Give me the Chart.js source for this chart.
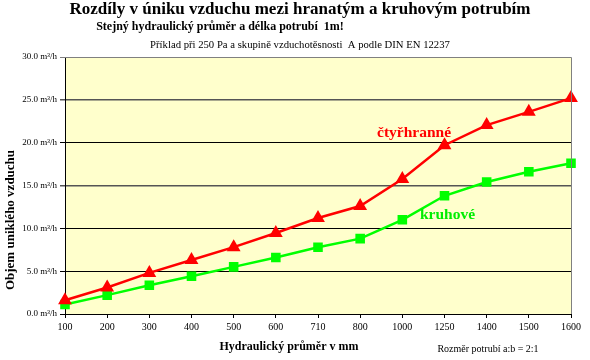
<!DOCTYPE html>
<html>
<head>
<meta charset="utf-8">
<script src="https://cdn.jsdelivr.net/npm/chart.js@4"></script>
<style>
html,body{margin:0;padding:0;background:#fff;}
#wrap{width:590px;height:360px;position:relative;}
</style>
</head>
<body>
<div id="wrap"><canvas id="c" width="590" height="360"></canvas></div>
<script>
const categories = ['100','200','300','400','500','600','710','800','1000','1250','1400','1500','1600'];
const squareDuct = [1.6, 3.1, 4.8, 6.3, 7.8, 9.45, 11.2, 12.6, 15.75, 19.7, 22.05, 23.6, 25.2];
const roundDuct  = [1.1, 2.2, 3.35, 4.4, 5.5, 6.6, 7.8, 8.8, 11.0, 13.8, 15.4, 16.6, 17.6];
const seriesNames = ['čtyřhranné', 'kruhové'];
const yTicks = [0, 5, 10, 15, 20, 25, 30];

const titleText = 'Rozdíly v úniku vzduchu mezi hranatým a kruhovým potrubím';
const subtitleText = 'Stejný hydraulický průměr a délka potrubí  1m!';
const noteText = 'Příklad při 250 Pa a skupině vzduchotěsnosti  A podle DIN EN 12237';
const xTitle = 'Hydraulický průměr v mm';
const yTitle = 'Objem uniklého vzduchu';
const ratioNote = 'Rozměr potrubí a:b = 2:1';

const serif = '"Liberation Serif", "Times New Roman", serif';

const deco = {
  id: 'deco',
  beforeDraw(chart) {
    const {ctx, chartArea: a} = chart;
    ctx.save();
    ctx.fillStyle = '#FFFFCC';
    ctx.fillRect(a.left, a.top, a.right - a.left, a.bottom - a.top);
    ctx.restore();
  },
  afterDatasetsDraw(chart) {
    const {ctx, chartArea: a} = chart;
    ctx.save();
    ctx.strokeStyle = '#808080';
    ctx.lineWidth = 1;
    ctx.beginPath();
    ctx.moveTo(a.left, a.top + 0.5); ctx.lineTo(a.right + 0.5, a.top + 0.5); ctx.lineTo(a.right + 0.5, a.bottom);
    ctx.stroke();
    ctx.restore();
  },
  afterDraw(chart) {
    const {ctx} = chart;
    ctx.save();
    ctx.fillStyle = '#000';
    ctx.textBaseline = 'middle';
    ctx.textAlign = 'center';
    ctx.font = 'bold 17px ' + serif;
    ctx.fillText(titleText, 300, 10);
    ctx.font = 'bold 12px ' + serif;
    ctx.fillText(subtitleText, 220, 27);
    ctx.font = '10.7px ' + serif;
    ctx.fillText(noteText, 300, 45);
    ctx.font = 'bold 12px ' + serif;
    ctx.fillText(xTitle, 289, 347);
    ctx.font = '10px ' + serif;
    ctx.fillText(ratioNote, 488, 349);
    ctx.save();
    ctx.translate(11, 220);
    ctx.rotate(-Math.PI / 2);
    ctx.font = 'bold 13px ' + serif;
    ctx.fillText(yTitle, 0, 0);
    ctx.restore();
    ctx.font = 'bold 15.5px ' + serif;
    ctx.textAlign = 'left';
    ctx.fillStyle = '#FF0000';
    ctx.fillText(seriesNames[0], 377, 133);
    ctx.fillStyle = '#00EE00';
    ctx.fillText(seriesNames[1], 420, 215);
    ctx.restore();
  }
};

new Chart(document.getElementById('c'), {
  type: 'line',
  data: {
    labels: categories,
    datasets: [
      {
        label: seriesNames[0],
        data: squareDuct,
        borderColor: '#FF0000',
        backgroundColor: '#FF0000',
        borderWidth: 2.5,
        pointStyle: 'triangle',
        pointRadius: 5.5,
        pointHoverRadius: 5.5,
        tension: 0
      },
      {
        label: seriesNames[1],
        data: roundDuct,
        borderColor: '#00FF00',
        backgroundColor: '#00FF00',
        borderWidth: 2.5,
        pointStyle: 'rect',
        pointRadius: 5,
        pointHoverRadius: 5,
        tension: 0
      }
    ]
  },
  options: {
    responsive: false,
    animation: false,
    events: [],
    layout: { padding: { left: 0, right: 19, top: 57, bottom: 0 } },
    plugins: {
      legend: { display: false },
      title: { display: false },
      tooltip: { enabled: false }
    },
    scales: {
      x: {
        offset: false,
        grid: { drawOnChartArea: false, drawTicks: true, tickLength: 4, color: '#000' },
        border: { color: '#000', width: 1 },
        ticks: { color: '#000', font: { family: serif, size: 10 }, padding: 3, maxRotation: 0, autoSkip: false },
        afterFit(s) { s.height = 46; }
      },
      y: {
        min: 0, max: 30,
        afterBuildTicks(s) { s.ticks = yTicks.map(v => ({ value: v })); },
        grid: {
          drawTicks: true, tickLength: 5,
          color: (c) => {
            const v = c.tick ? c.tick.value : 0;
            return (v === 25 || v === 15) ? '#555' : (v === 30 ? '#808080' : '#000');
          },
          lineWidth: (c) => (c.tick && (c.tick.value === 25 || c.tick.value === 15)) ? 1.5 : 1
        },
        border: { color: '#000', width: 1 },
        ticks: {
          color: '#000', font: { family: serif, size: 9 }, padding: 3,
          callback: (v) => Number(v).toFixed(1) + ' m³/h'
        },
        afterFit(s) { s.width = 65; }
      }
    }
  },
  plugins: [deco]
});
</script>
</body>
</html>
